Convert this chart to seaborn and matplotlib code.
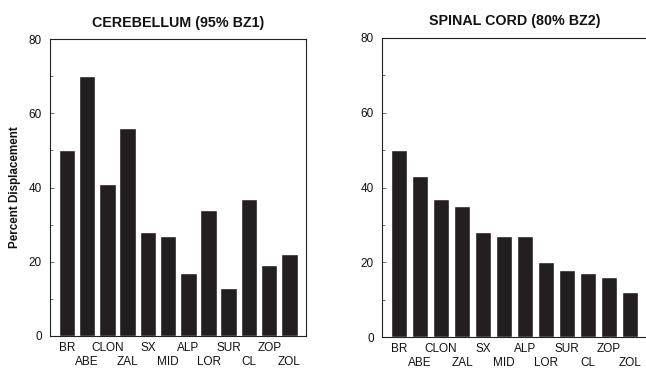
import matplotlib
matplotlib.use("Agg")
import matplotlib.pyplot as plt
import seaborn as sns
import pandas as pd
from matplotlib.ticker import MultipleLocator

drugs = ["BR", "ABE", "CLON", "ZAL", "SX", "MID", "ALP", "LOR", "SUR", "CL", "ZOP", "ZOL"]
cerebellum = [50, 70, 41, 56, 28, 27, 17, 34, 13, 37, 19, 22]
spinal = [50, 43, 37, 35, 28, 27, 27, 20, 18, 17, 16, 12]
titles = ["CEREBELLUM (95% BZ1)", "SPINAL CORD (80% BZ2)"]
yticks = [0, 20, 40, 60, 80]

sns.set_theme(style="white")
plt.rcParams["font.family"] = ["Liberation Sans", "DejaVu Sans"]
plt.rcParams["text.color"] = "#111111"
plt.rcParams["ytick.labelcolor"] = "#111111"

fig = plt.figure(figsize=(6.46, 3.68), dpi=100)
W, H = 646, 368
axes = [
    fig.add_axes([50 / W, 1 - 336 / H, 256 / W, 297 / H]),
    fig.add_axes([382 / W, 1 - 337 / H, 265 / W, 299 / H]),
]
widths = [0.82, 0.78]
xlims = [(-0.84, 11.82), (-0.81, 11.82)]

for ax, vals, title, w, xl in zip(axes, [cerebellum, spinal], titles, widths, xlims):
    df = pd.DataFrame({"drug": drugs, "val": vals})
    sns.barplot(data=df, x="drug", y="val", color="#231f20", saturation=1,
                width=w, ax=ax, order=drugs)
    ax.set_xlim(*xl)
    ax.set_ylim(0, 80)
    ax.set_yticks(yticks)
    ax.yaxis.set_minor_locator(MultipleLocator(10))
    ax.tick_params(axis="y", which="both", direction="in", left=True,
                   length=3, width=0.6, color="#555555", labelsize=8.5, pad=6)
    ax.tick_params(axis="y", which="minor", length=2)
    ax.set_xticks([])
    for i, d in enumerate(drugs):
        off = -12 if i % 2 == 0 else -26
        ax.annotate(d, xy=(i, 0), xycoords=("data", "axes fraction"),
                    xytext=(0, off), textcoords="offset pixels",
                    ha="center", va="center", fontsize=8.5, color="#111111",
                    annotation_clip=False)
    ax.set_xlabel("")
    ax.set_ylabel("")
    ax.set_title(title, fontsize=10.3, fontweight="bold", pad=9, color="#111111")
    for s in ax.spines.values():
        s.set_visible(True)
        s.set_color("#222222")
        s.set_linewidth(0.8)

axes[0].set_ylabel("Percent Displacement", fontsize=8.4, fontweight="bold",
                   labelpad=5, color="#111111")

fig.savefig("out.png", dpi=100)
